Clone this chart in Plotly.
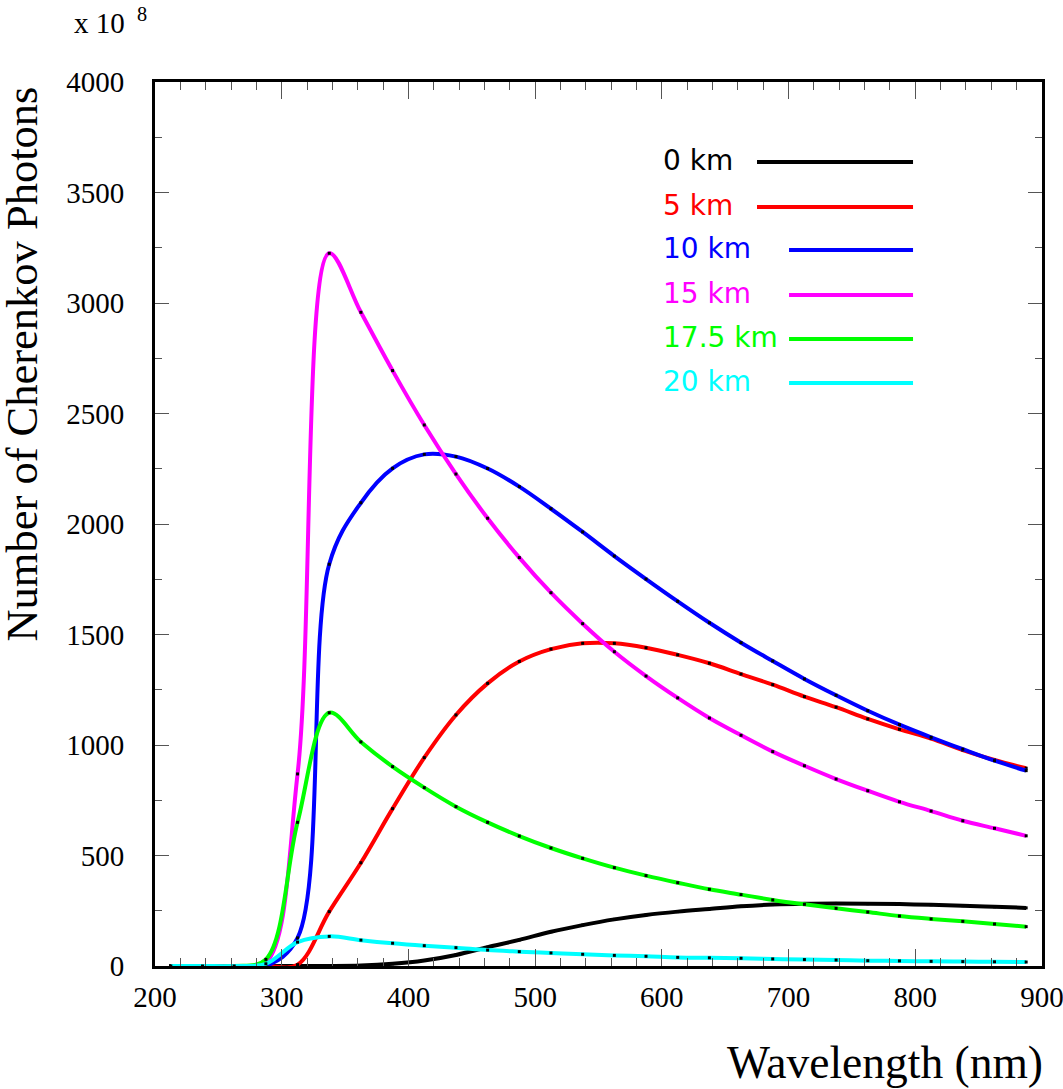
import plotly.graph_objects as go

wavelength = [212.5 + 25 * k for k in range(28)]

km0 = [0, 0, 0, 0, 0, 0, 2, 10, 25, 50, 85, 118, 155, 185, 211, 231, 246, 258,
       270, 278, 282, 283, 282, 280, 277, 273, 268, 263]
km5 = [0, 0, 0, 0, 6, 246, 467, 712, 943, 1136, 1279, 1378, 1434, 1460, 1460, 1440,
       1408, 1370, 1321, 1273, 1219, 1171, 1118, 1071, 1029, 977, 932, 895]
km10 = [0, 0, 0, 0, 127, 1818, 2096, 2252, 2315, 2305, 2251, 2169, 2069, 1964, 1855,
        1751, 1650, 1553, 1463, 1380, 1299, 1225, 1155, 1092, 1035, 981, 929, 884]
km15 = [0, 0, 0, 15, 869, 3225, 2958, 2694, 2448, 2226, 2026, 1848, 1689, 1549, 1422,
        1312, 1213, 1122, 1044, 970, 906, 846, 793, 743, 701, 657, 623, 589]
km17_5 = [0, 0, 0, 30, 650, 1146, 1014, 902, 807, 721, 650, 588, 534, 487, 445, 409,
          377, 347, 323, 299, 279, 261, 244, 226, 213, 202, 190, 178]
km20 = [0, 0, 0, 10, 108, 134, 117, 103, 92, 83, 72, 65, 59, 53, 48, 44, 39, 37,
        35, 32, 29, 27, 24, 23, 21, 20, 19, 18]

series_names = ["0 km", "5 km", "10 km", "15 km", "17.5 km", "20 km"]
series_values = [km0, km5, km10, km15, km17_5, km20]
series_colors = ["#000000", "#ff0000", "#0000ff", "#ff00ff", "#00ff00", "#00ffff"]

fig = go.Figure()
for name, vals, col in zip(series_names, series_values, series_colors):
    fig.add_trace(go.Scatter(
        x=wavelength, y=vals, name=name, mode="lines+markers",
        line=dict(color=col, width=4, shape="spline", smoothing=1.0),
        marker=dict(color="black", size=3, symbol="square"),
        showlegend=False, cliponaxis=True,
    ))

# legend drawn as text + line (ROOT style)
leg_y = [0.9095, 0.8586, 0.8100, 0.7590, 0.7093, 0.6595]
leg_x0 = [0.6787, 0.6787, 0.7148, 0.7148, 0.7148, 0.7148]
for name, col, yy, x0 in zip(series_names, series_colors, leg_y, leg_x0):
    fig.add_shape(type="line", xref="paper", yref="paper", x0=x0, x1=0.8546,
                  y0=yy, y1=yy, line=dict(color=col, width=4))
    fig.add_annotation(xref="paper", yref="paper", x=0.5700, y=yy + 0.002,
                       xanchor="left", yanchor="middle", showarrow=False,
                       text=name, font=dict(family="DejaVu Sans", size=28, color=col))

serif = "Liberation Serif, Times New Roman, serif"

fig.add_annotation(xref="paper", yref="paper", x=-0.151, y=0.9966,
                   xanchor="center", yanchor="top", textangle=-90, showarrow=False,
                   text="Number of Cherenkov Photons",
                   font=dict(family=serif, size=44.5, color="black"))
fig.add_annotation(xref="paper", yref="paper", x=1.0034, y=-0.1097,
                   xanchor="right", yanchor="middle", showarrow=False,
                   text="Wavelength (nm)",
                   font=dict(family=serif, size=45.5, color="black"))
fig.add_annotation(xref="paper", yref="paper", x=-0.0935, y=1.0915,
                   xanchor="left", yanchor="top", showarrow=False,
                   text="x 10 <sup> 8</sup>",
                   font=dict(family=serif, size=29, color="black"))

fig.update_layout(
    width=1063, height=1089,
    margin=dict(l=155, r=21, t=82, b=123, autoexpand=False),
    paper_bgcolor="white", plot_bgcolor="white",
    font=dict(family=serif, size=29, color="black"),
    xaxis=dict(range=[200, 900], tickvals=[200, 300, 400, 500, 600, 700, 800, 900],
               ticks="inside", ticklen=17, tickwidth=1, tickcolor="#555",
               minor=dict(dtick=20, ticks="inside", ticklen=8, tickwidth=1, tickcolor="#555"),
               showline=True, linecolor="black", linewidth=3, mirror="allticks",
               showgrid=False, zeroline=False, ticklabelstandoff=3,
               ticklabeloverflow="allow", automargin=False),
    yaxis=dict(range=[0, 4000], tickvals=[0, 500, 1000, 1500, 2000, 2500, 3000, 3500, 4000],
               ticks="inside", ticklen=14, tickwidth=1, tickcolor="#555",
               minor=dict(dtick=250, ticks="inside", ticklen=7, tickwidth=1, tickcolor="#555"),
               showline=True, linecolor="black", linewidth=3, mirror="allticks",
               showgrid=False, zeroline=False, ticklabelstandoff=22,
               ticklabeloverflow="allow", automargin=False),
)

fig.write_html("out.html")
